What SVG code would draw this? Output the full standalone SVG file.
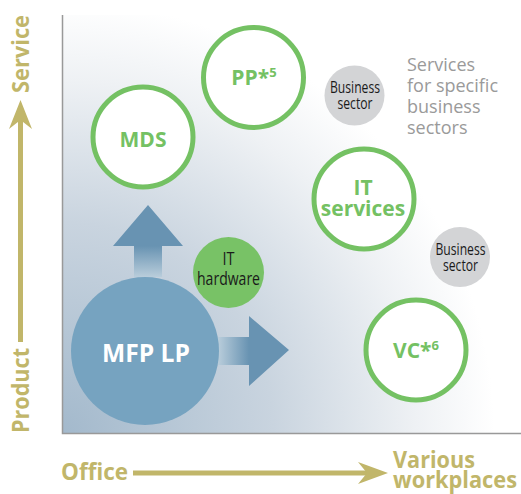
<svg xmlns="http://www.w3.org/2000/svg" width="521" height="494" viewBox="0 0 521 494">
<style>
.ring{fill:#fff;stroke:#74C163;stroke-width:5}
.gl{font-family:"Open Sans","Liberation Sans",sans-serif;font-weight:bold;font-size:21px;fill:#74C163;text-anchor:middle}
.sup{font-size:13px}
.bs{fill:#D3D4D6}
.cond{font-family:"Open Sans","Liberation Sans",sans-serif;fill:#1A1A1A;text-anchor:middle}
.ax{font-family:"Open Sans","Liberation Sans",sans-serif;font-weight:bold;font-size:23px;fill:#C1B66A}
.note{font-family:"Open Sans","Liberation Sans",sans-serif;font-size:18px;fill:#9A9A9A}
</style>
<defs>
<radialGradient id="bg" gradientUnits="userSpaceOnUse" cx="62" cy="434" r="470">
<stop offset="0" stop-color="#A3B9CC"/>
<stop offset="0.45" stop-color="#C9D4DF"/>
<stop offset="0.75" stop-color="#EEF1F4"/>
<stop offset="0.92" stop-color="#FFFFFF"/>
</radialGradient>
<linearGradient id="upg" gradientUnits="userSpaceOnUse" x1="0" y1="277" x2="0" y2="246">
<stop offset="0" stop-color="#B9CDDB"/>
<stop offset="1" stop-color="#6893B2"/>
</linearGradient>
<linearGradient id="rtg" gradientUnits="userSpaceOnUse" x1="218" y1="0" x2="249" y2="0">
<stop offset="0" stop-color="#B9CDDB"/>
<stop offset="1" stop-color="#6893B2"/>
</linearGradient>
</defs>

<rect x="62" y="15" width="459" height="419" fill="url(#bg)"/>
<path d="M62.5 15 V433.5 H521" fill="none" stroke="#999" stroke-width="1.5"/>

<g id="axes">
<line x1="20.5" y1="342" x2="20.5" y2="115" stroke="#C1B66A" stroke-width="5"/>
<polygon points="20.5,100 32,129 20.5,120 9,129" fill="#C1B66A"/>
<line x1="133" y1="473" x2="372" y2="473" stroke="#C1B66A" stroke-width="5"/>
<polygon points="388,473 358,462 367,473 358,484" fill="#C1B66A"/>
<text class="ax" transform="translate(29,433) rotate(-90)" textLength="85" lengthAdjust="spacingAndGlyphs">Product</text>
<text class="ax" transform="translate(29,93) rotate(-90)" textLength="78" lengthAdjust="spacingAndGlyphs">Service</text>
<text class="ax" x="61" y="480" textLength="67" lengthAdjust="spacingAndGlyphs">Office</text>
<text class="ax" x="393" y="468" textLength="82" lengthAdjust="spacingAndGlyphs">Various</text>
<text class="ax" x="393" y="488" textLength="124" lengthAdjust="spacingAndGlyphs">workplaces</text>
</g>

<g id="connectors">
<polygon points="134,277 134,246 113,246 148,205 183,246 162,246 162,277" fill="url(#upg)"/>
<polygon points="218,337 249,337 249,316 289,350 249,386 249,365 218,365" fill="url(#rtg)"/>
</g>

<g id="mfp-lp">
<circle cx="145" cy="351" r="74" fill="#76A3C0"/>
<text x="146" y="362" font-family="Open Sans, Liberation Sans, sans-serif" font-weight="bold" font-size="25" fill="#fff" text-anchor="middle" textLength="88" lengthAdjust="spacingAndGlyphs">MFP LP</text>
</g>

<g id="it-hardware">
<circle cx="228.5" cy="272.5" r="35.5" fill="#78C266"/>
<text class="cond" x="228.5" y="265" font-size="18" textLength="12" lengthAdjust="spacingAndGlyphs">IT</text>
<text class="cond" x="228.5" y="285" font-size="18" textLength="63" lengthAdjust="spacingAndGlyphs">hardware</text>
</g>

<g id="mds">
<circle class="ring" cx="143" cy="137" r="50"/>
<text class="gl" x="143" y="146.5">MDS</text>
</g>

<g id="pp">
<circle class="ring" cx="253.5" cy="77.5" r="50"/>
<text class="gl" x="254" y="85">PP*<tspan class="sup" dy="-8">5</tspan></text>
</g>

<g id="it-services">
<circle class="ring" cx="364" cy="199" r="50"/>
<text class="gl" x="363" y="195">IT</text>
<text class="gl" x="363" y="216">services</text>
</g>

<g id="vc">
<circle class="ring" cx="416" cy="350" r="50"/>
<text class="gl" x="416" y="358">VC*<tspan class="sup" dy="-8">6</tspan></text>
</g>

<g id="business-sector-1">
<circle class="bs" cx="354.5" cy="95.5" r="30"/>
<text class="cond" x="355" y="93.3" font-size="16" textLength="50" lengthAdjust="spacingAndGlyphs">Business</text>
<text class="cond" x="355" y="109.3" font-size="16" textLength="35" lengthAdjust="spacingAndGlyphs">sector</text>
</g>

<g id="business-sector-2">
<circle class="bs" cx="460" cy="257" r="30"/>
<text class="cond" x="460.5" y="255" font-size="16" textLength="50" lengthAdjust="spacingAndGlyphs">Business</text>
<text class="cond" x="460.5" y="271" font-size="16" textLength="35" lengthAdjust="spacingAndGlyphs">sector</text>
</g>

<g id="services-note">
<text class="note" x="407" y="71">Services</text>
<text class="note" x="407" y="92">for specific</text>
<text class="note" x="407" y="113">business</text>
<text class="note" x="407" y="134">sectors</text>
</g>
</svg>
